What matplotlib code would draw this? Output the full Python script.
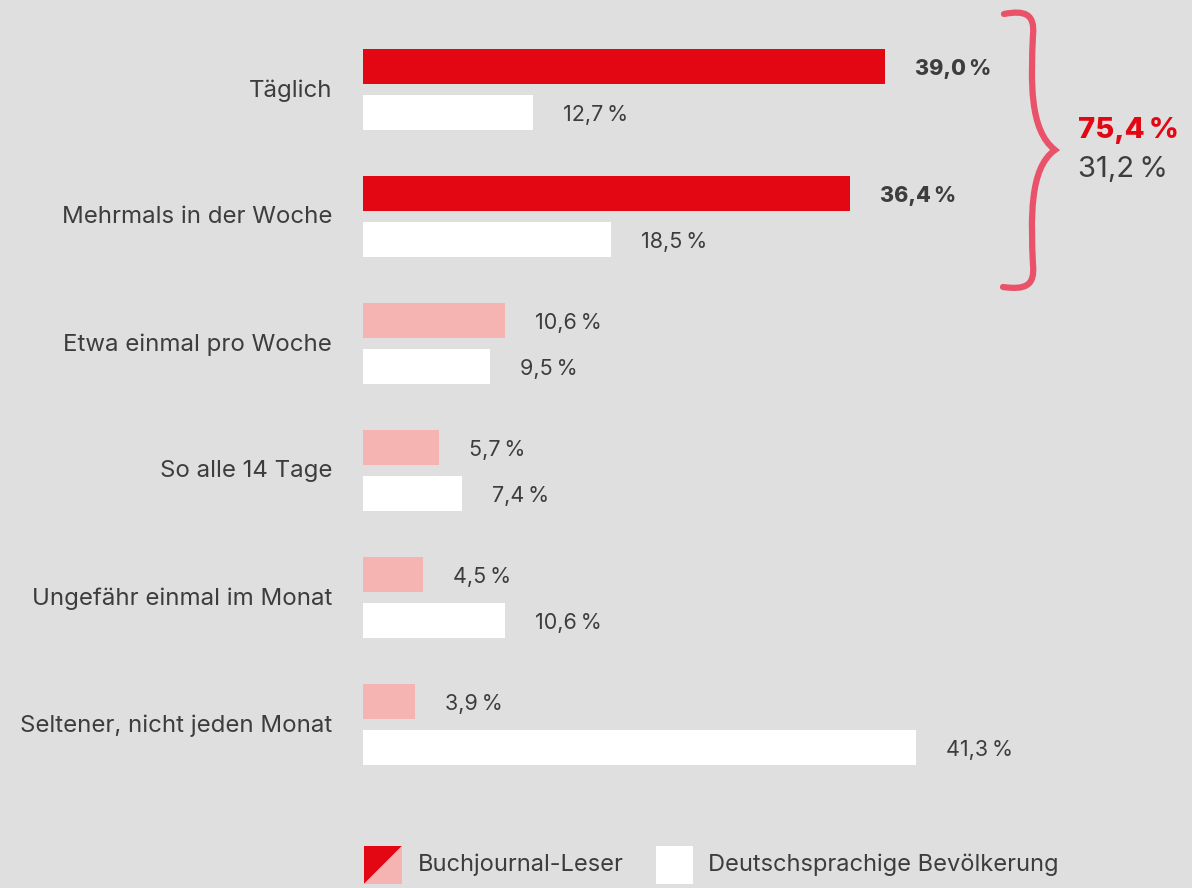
import matplotlib
matplotlib.use('Agg')
import matplotlib.pyplot as plt
from matplotlib.patches import Polygon, Rectangle
from matplotlib.path import Path
from matplotlib.patches import PathPatch
import numpy as np

# -------------------------------------------------------------------------------------------------------------------- #

categories = ['Täglich', 'Mehrmals in der Woche', 'Etwa einmal pro Woche',
              'So alle 14 Tage', 'Ungefähr einmal im Monat', 'Seltener, nicht jeden Monat']
leser = [39.0, 36.4, 10.6, 5.7, 4.5, 3.9]
bevoelkerung = [12.7, 18.5, 9.5, 7.4, 10.6, 41.3]
sum_leser = 75.4
sum_bevoelkerung = 31.2
legend_labels = ['Buchjournal-Leser', 'Deutschsprachige Bevölkerung']

BG = '#dfdfdf'
RED = '#e30613'
PINK = '#f5b3b1'
TXT = '#3d3d3d'
BRACE = '#ea5269'

plt.rcParams['font.family'] = ['Inter', 'DejaVu Sans']

W, H = 1192, 888
fig = plt.figure(figsize=(W / 100, H / 100), dpi=100, facecolor=BG)


def fmt(v):
    return ('%.1f' % v).replace('.', ',') + '\u2009%'


# bar axes: starts at x=363px, 13.385 px per percent
x0 = 363
ppu = 13.385
ax = fig.add_axes([x0 / W, 0, 1 - x0 / W, 1])
ax.set_facecolor('none')
ax.set_xlim(0, (W - x0) / ppu)
gap = 127.0
ax.set_ylim((H - 89.5) / gap, -89.5 / gap)
ax.axis('off')

pos = np.arange(len(categories))
off = 23 / gap
bh = 35 / gap
colors_l = [RED, RED, PINK, PINK, PINK, PINK]
ax.barh(pos - off, leser, height=bh, color=colors_l, linewidth=0)
ax.barh(pos + off, bevoelkerung, height=bh, color='white', linewidth=0)

lab_gap = 30 / ppu
dy = 2.5 / gap
for i, (a, b) in enumerate(zip(leser, bevoelkerung)):
    bold = i < 2
    ax.text(a + lab_gap, i - off + dy, fmt(a), va='center', ha='left', fontsize=15.5,
            color=TXT, fontweight='heavy' if bold else 'normal')
    ax.text(b + lab_gap, i + off + dy, fmt(b), va='center', ha='left', fontsize=15.5, color=TXT)
    ax.text(-31 / ppu, i + 1 / gap, categories[i], va='center', ha='right', fontsize=17.3, color=TXT)

# overlay in pixel coords for brace and legend
ov = fig.add_axes([0, 0, 1, 1])
ov.set_xlim(0, W)
ov.set_ylim(H, 0)
ov.axis('off')
ov.patch.set_alpha(0)

# curly brace
verts = [(1004, 14), (1025, 10), (1035, 14), (1033, 35),
         (1031, 80), (1029, 130), (1055, 150),
         (1029, 168), (1031, 220), (1033, 265),
         (1035, 286), (1025, 290), (1003, 287)]
codes = [Path.MOVETO, Path.CURVE4, Path.CURVE4, Path.CURVE4,
         Path.CURVE4, Path.CURVE4, Path.CURVE4,
         Path.CURVE4, Path.CURVE4, Path.CURVE4,
         Path.CURVE4, Path.CURVE4, Path.CURVE4]
ov.add_patch(PathPatch(Path(verts, codes), fill=False, edgecolor=BRACE, lw=4.5, capstyle='round'))

ov.text(1078, 130, fmt(sum_leser), color=RED, fontsize=21, fontweight='heavy', va='center', ha='left')
ov.text(1078, 170, fmt(sum_bevoelkerung), color=TXT, fontsize=21, va='center', ha='left')

# legend
s = 38
lx, ly = 364, 846
ov.add_patch(Polygon([(lx, ly), (lx + s, ly), (lx, ly + s)], closed=True, color=RED, lw=0))
ov.add_patch(Polygon([(lx + s, ly), (lx + s, ly + s), (lx, ly + s)], closed=True, color=PINK, lw=0))
ov.text(418, 865, legend_labels[0], fontsize=17, color=TXT, va='center', ha='left')
ov.add_patch(Rectangle((656, ly), 37, s, color='white', lw=0))
ov.text(708, 865, legend_labels[1], fontsize=17, color=TXT, va='center', ha='left')

fig.savefig('out.png', dpi=100, facecolor=BG)
